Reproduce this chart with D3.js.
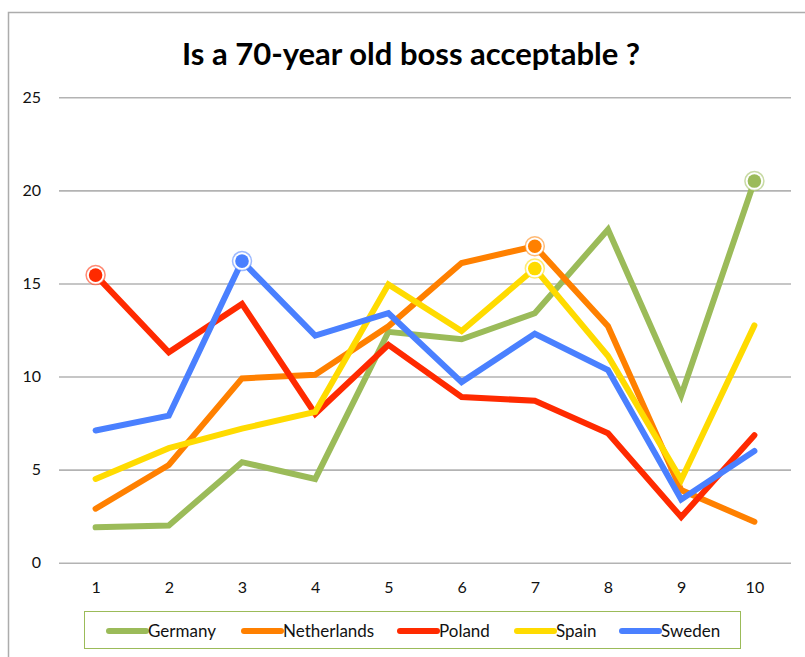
<!DOCTYPE html>
<html>
<head>
<meta charset="utf-8">
<script src="https://cdn.jsdelivr.net/npm/d3@7"></script>
<style>
  body { margin: 0; background: #fff; }
  text { font-family: Lato, "Open Sans", sans-serif; }
</style>
</head>
<body>
<div id="chart"></div>
<script>
// data
var categories = [1, 2, 3, 4, 5, 6, 7, 8, 9, 10];
var yTicks = [0, 5, 10, 15, 20, 25];
var countries = ["Germany", "Netherlands", "Poland", "Spain", "Sweden"];
var germany     = [1.9, 2.0, 5.4, 4.5, 12.4, 12.0, 13.4, 17.9, 9.0, 20.5];
var netherlands = [2.9, 5.25, 9.9, 10.1, 12.7, 16.1, 17.0, 12.7, 3.9, 2.2];
var poland      = [15.45, 11.3, 13.9, 8.0, 11.7, 8.9, 8.7, 6.95, 2.45, 6.85];
var spain       = [4.5, 6.15, 7.2, 8.1, 14.95, 12.45, 15.8, 11.1, 4.45, 12.75];
var sweden      = [7.1, 7.9, 16.2, 12.2, 13.4, 9.7, 12.3, 10.35, 3.4, 6.0];
// the highlighted (maximum) point of each series, as a category
var peaks = [10, 7, 1, 7, 3];
var colors = ["#9bbb59", "#ff8000", "#ff2a00", "#ffdb00", "#4a80ff"];

var seriesValues = [germany, netherlands, poland, spain, sweden];
var series = countries.map(function(name, i) {
    return {
        name: name,
        color: colors[i],
        peak: peaks[i],
        values: categories.map(function(c, j) { return { x: c, y: seriesValues[i][j] }; })
    };
});

var width = 805, height = 657;

var svg = d3.select("#chart")
    .append("svg")
    .attr("width", width)
    .attr("height", height);

// outer frame of the chart
svg.append("rect")
    .attr("x", 8.5).attr("y", 12.5)
    .attr("width", 820).attr("height", 700)
    .attr("fill", "none")
    .attr("stroke", "#acacac")
    .attr("stroke-width", 1.5);

svg.append("text")
    .attr("x", 411)
    .attr("y", 65)
    .attr("text-anchor", "middle")
    .attr("font-size", 31)
    .attr("font-weight", "bold")
    .attr("fill", "#000")
    .text("Is a 70-year old boss acceptable ?");

// scales
var xScale = d3.scalePoint().domain(categories).range([59, 791]).padding(0.5);
var yScale = d3.scaleLinear().domain([0, 25]).range([562.7, 97.3]);

// gridlines + y labels
var yAxis = svg.append("g")
    .attr("transform", "translate(59,0)")
    .call(d3.axisLeft(yScale).tickValues(yTicks).tickSize(-732).tickPadding(18));
yAxis.select(".domain").remove();
yAxis.selectAll(".tick line").attr("stroke", "#b3b3b3").attr("stroke-width", 1.6);
yAxis.selectAll(".tick text")
    .attr("font-family", "Lato, 'Open Sans', sans-serif")
    .attr("font-size", 16)
    .attr("fill", "#111");

// x labels
var xAxis = svg.append("g")
    .attr("transform", "translate(0,562.7)")
    .call(d3.axisBottom(xScale).tickSize(0).tickPadding(19));
xAxis.select(".domain").remove();
xAxis.selectAll(".tick text")
    .attr("font-family", "Lato, 'Open Sans', sans-serif")
    .attr("font-size", 16)
    .attr("fill", "#111");

// lines
var line = d3.line()
    .x(function(d) { return xScale(d.x); })
    .y(function(d) { return yScale(d.y); });

svg.selectAll(".series")
    .data(series)
    .enter()
    .append("path")
    .attr("class", "series")
    .attr("d", function(d) { return line(d.values); })
    .attr("fill", "none")
    .attr("stroke", function(d) { return d.color; })
    .attr("stroke-width", 6)
    .attr("stroke-linecap", "round")
    .attr("stroke-linejoin", "miter");

// peak markers
var markers = svg.selectAll(".peak")
    .data(series)
    .enter()
    .append("g")
    .attr("class", "peak")
    .attr("transform", function(d) {
        var p = d.values.find(function(v) { return v.x === d.peak; });
        return "translate(" + xScale(p.x) + "," + yScale(p.y) + ")";
    });
markers.append("circle")
    .attr("r", 9.5)
    .attr("fill", "#fff")
    .attr("stroke", function(d) { return d.color; })
    .attr("stroke-opacity", 0.55)
    .attr("stroke-width", 1.5);
markers.append("circle")
    .attr("r", 6.8)
    .attr("fill", function(d) { return d.color; });

// legend
svg.append("rect")
    .attr("x", 84.5).attr("y", 611.5)
    .attr("width", 656).attr("height", 37)
    .attr("fill", "#fff")
    .attr("stroke", "#9bbb59")
    .attr("stroke-width", 1);

var legendX = [107, 242, 398, 515, 620];
var legend = svg.selectAll(".legend")
    .data(series)
    .enter()
    .append("g")
    .attr("class", "legend")
    .attr("transform", function(d, i) { return "translate(" + legendX[i] + ",631)"; });
legend.append("line")
    .attr("x1", 2).attr("x2", 39)
    .attr("stroke", function(d) { return d.color; })
    .attr("stroke-width", 6)
    .attr("stroke-linecap", "round");
legend.append("text")
    .attr("x", 41)
    .attr("y", 6)
    .attr("font-size", 17)
    .attr("fill", "#111")
    .text(function(d) { return d.name; });
</script>
</body>
</html>
